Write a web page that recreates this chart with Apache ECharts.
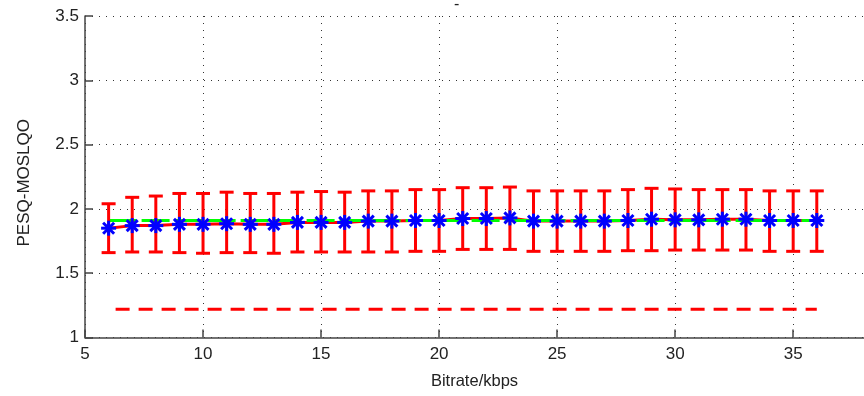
<!DOCTYPE html>
<html>
<head>
<meta charset="utf-8">
<script src="https://cdn.jsdelivr.net/npm/echarts@6/dist/echarts.min.js"></script>
<style>html,body{margin:0;padding:0;background:#fff;}#c{width:864px;height:396px;}</style>
</head>
<body>
<div id="c"></div>
<script>
var bitrates = [6,7,8,9,10,11,12,13,14,15,16,17,18,19,20,21,22,23,24,25,26,27,28,29,30,31,32,33,34,35,36];
var meanScores = [1.85,1.87,1.87,1.88,1.88,1.885,1.88,1.88,1.895,1.895,1.895,1.905,1.905,1.91,1.91,1.925,1.925,1.93,1.905,1.905,1.905,1.905,1.91,1.92,1.915,1.915,1.92,1.92,1.91,1.91,1.91];
var upperScores = [2.04,2.09,2.10,2.12,2.12,2.13,2.12,2.12,2.13,2.135,2.13,2.14,2.14,2.15,2.15,2.165,2.165,2.17,2.14,2.14,2.14,2.14,2.15,2.16,2.155,2.15,2.15,2.15,2.14,2.14,2.14];
var lowerScores = [1.66,1.665,1.665,1.66,1.655,1.66,1.66,1.655,1.665,1.665,1.665,1.665,1.665,1.67,1.67,1.685,1.685,1.685,1.67,1.67,1.67,1.67,1.675,1.675,1.68,1.68,1.68,1.68,1.67,1.67,1.67];
var greenRef = [[6,1.91],[36,1.91]];
var redRef = [[6,1.22],[36,1.22]];
var xTicks = [5,10,15,20,25,30,35];
var yTicks = [1,1.5,2,2.5,3,3.5];

var meanData = bitrates.map(function(x,i){return [x, meanScores[i]];});
var errData = bitrates.map(function(x,i){return [x, lowerScores[i], upperScores[i]];});

var chart = echarts.init(document.getElementById('c'), null, {renderer:'canvas'});
var font = 'Liberation Sans, Arial, Helvetica, sans-serif';
var dotted = {color:'#333', width:1, type:[1,6]};
chart.setOption({
  animation:false,
  backgroundColor:'#fff',
  title:{text:'-', left:449, top:-8, textStyle:{fontSize:16, fontWeight:'normal', color:'#222', fontFamily:font}},
  grid:{left:85, top:16, width:785.4, height:321.5, containLabel:false},
  xAxis:{
    type:'value', min:5, max:38, interval:5,
    name:'Bitrate/kbps', nameLocation:'middle', nameGap:35,
    nameTextStyle:{fontSize:16.5, color:'#222', fontFamily:font},
    axisLine:{show:true, lineStyle:{color:'#444', width:1.5}},
    axisTick:{show:true, inside:true, length:8, lineStyle:{color:'#444', width:1.5}},
    axisLabel:{fontSize:17, color:'#222', fontFamily:font, margin:8, showMaxLabel:false,
      formatter:function(v){return xTicks.indexOf(v)>=0 ? String(v) : '';}},
    splitLine:{show:true, lineStyle:dotted}
  },
  yAxis:{
    type:'value', min:1, max:3.5, interval:0.5,
    name:'PESQ-MOSLQO', nameLocation:'middle', nameGap:52, nameRotate:90,
    nameTextStyle:{fontSize:17, color:'#222', fontFamily:font, padding:[0,12,0,0]},
    axisLine:{show:true, lineStyle:{color:'#444', width:1.5}},
    axisTick:{show:true, inside:true, length:8, lineStyle:{color:'#444', width:1.5}},
    axisLabel:{fontSize:17, color:'#222', fontFamily:font, margin:6,
      formatter:function(v){return yTicks.indexOf(v)>=0 ? String(v) : '';}},
    splitLine:{show:true, lineStyle:dotted}
  },
  series:[
    {type:'line', data:redRef, showSymbol:false, symbol:'none', z:2,
      lineStyle:{color:'#ff0000', width:3, type:[14,9], dashOffset:-7}},
    {type:'line', data:meanData, showSymbol:false, symbol:'none', z:3,
      lineStyle:{color:'#ff0000', width:3}},
    {type:'line', data:greenRef, showSymbol:false, symbol:'none', z:4,
      lineStyle:{color:'#00ff00', width:3, type:[28,5]}},
    {type:'custom', data:errData, z:5, encode:{x:0, y:[1,2]},
      renderItem:function(params, api){
        var x = api.value(0);
        var lo = api.coord([x, api.value(1)]);
        var hi = api.coord([x, api.value(2)]);
        var hw = 7;
        var st = {stroke:'#ff0000', lineWidth:3};
        return {type:'group', children:[
          {type:'line', shape:{x1:lo[0], y1:lo[1], x2:hi[0], y2:hi[1]}, style:st},
          {type:'line', shape:{x1:lo[0]-hw, y1:lo[1], x2:lo[0]+hw, y2:lo[1]}, style:st},
          {type:'line', shape:{x1:hi[0]-hw, y1:hi[1], x2:hi[0]+hw, y2:hi[1]}, style:st}
        ]};
      }},
    {type:'custom', data:meanData, z:6, encode:{x:0, y:1},
      renderItem:function(params, api){
        var p = api.coord([api.value(0), api.value(1)]);
        var r = 7.5, d = 5.5;
        var st = {stroke:'#0000ff', lineWidth:3};
        return {type:'group', children:[
          {type:'line', shape:{x1:p[0]-r, y1:p[1], x2:p[0]+r, y2:p[1]}, style:st},
          {type:'line', shape:{x1:p[0], y1:p[1]-r, x2:p[0], y2:p[1]+r}, style:st},
          {type:'line', shape:{x1:p[0]-d, y1:p[1]-d, x2:p[0]+d, y2:p[1]+d}, style:st},
          {type:'line', shape:{x1:p[0]-d, y1:p[1]+d, x2:p[0]+d, y2:p[1]-d}, style:st}
        ]};
      }}
  ]
});
</script>
</body>
</html>
